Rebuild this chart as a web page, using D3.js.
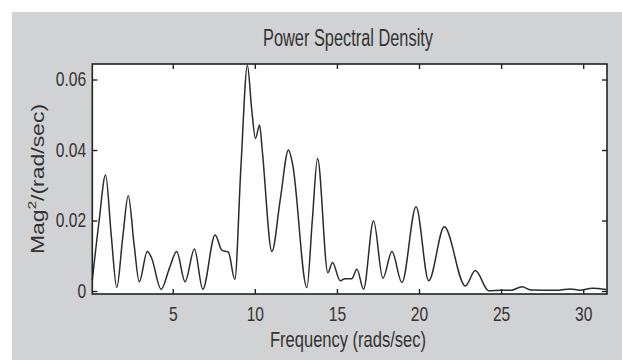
<!DOCTYPE html>
<html>
<head>
<meta charset="utf-8">
<script src="https://cdn.jsdelivr.net/npm/d3@7"></script>
<style>
  body { margin: 0; background: #fff; }
  text { font-family: "Liberation Sans", Arial, sans-serif; fill: #333; }
</style>
</head>
<body>
<svg id="chart" width="622" height="360"></svg>
<script>
// spectrum (frequency in rad/s, magnitude)
const freq = [0.10, 0.50, 0.91, 1.25, 1.59, 1.95, 2.29, 2.65, 2.96, 3.45, 3.70, 4.29, 4.80, 5.24,
  5.75, 6.32, 6.83, 7.58, 8.00, 8.39, 8.78, 9.15, 9.55, 9.80, 10.04, 10.29, 10.45, 11.04, 11.55,
  12.05, 12.30, 13.17, 13.50, 13.82, 14.45, 14.73, 15.20, 15.50, 15.90, 16.22, 16.62, 17.23,
  17.80, 18.35, 18.96, 19.82, 20.59, 21.54, 22.82, 23.43, 24.24, 25.00, 25.60, 26.28, 26.80,
  28.50, 29.20, 29.80, 30.55, 31.40];
const psd = [0.0031, 0.0193, 0.0329, 0.0160, 0.0010, 0.0150, 0.0270, 0.0130, 0.0026, 0.0112, 0.0095,
  0.0005, 0.0065, 0.0112, 0.0026, 0.0119, 0.0005, 0.0159, 0.0115, 0.0110, 0.0033, 0.0350, 0.0640,
  0.0520, 0.0433, 0.0471, 0.0400, 0.0112, 0.0260, 0.0400, 0.0360, 0.0010, 0.0200, 0.0376, 0.0052,
  0.0081, 0.0029, 0.0035, 0.0035, 0.0062, 0.0005, 0.0199, 0.0036, 0.0112, 0.0024, 0.0239, 0.0029,
  0.0182, 0.0014, 0.0058, 0.0001, 0.0002, 0.0002, 0.0012, 0.0003, 0.0002, 0.0006, 0.0002, 0.0008,
  0.0004];

const xTicks = [5, 10, 15, 20, 25, 30];
const yTicks = [0, 0.02, 0.04, 0.06];
const xDomain = [0.1, 31.45];
const yDomain = [-0.00085, 0.0644];

const svg = d3.select("#chart");
const plotL = 92.3, plotR = 607, plotT = 64, plotB = 294;
const squeeze = 0.78; // the reference lettering is narrow

// gray figure background
svg.append("rect").attr("x", 12).attr("y", 12).attr("width", 610).attr("height", 348)
  .attr("fill", "#d1d2d4");
svg.append("rect").attr("x", plotL).attr("y", plotT)
  .attr("width", plotR - plotL).attr("height", plotB - plotT).attr("fill", "#fff");

const x = d3.scaleLinear().domain(xDomain).range([plotL, plotR]);
const y = d3.scaleLinear().domain(yDomain).range([plotB, plotT]);

const yFmt = (d) => (d === 0 ? "0" : d3.format(".2f")(d));

const styleAxis = (g) => {
  g.select(".domain").remove();
  g.selectAll(".tick line").attr("stroke", "#222").attr("stroke-width", 1.4);
  g.selectAll("text").attr("font-size", 20).attr("fill", "#333")
    .attr("font-family", '"Liberation Sans", Arial, sans-serif')
    .attr("transform", `scale(${squeeze},1)`);
};

svg.append("g").attr("transform", `translate(0,${plotB})`)
  .call(d3.axisBottom(x).tickValues(xTicks).tickSize(-5).tickPadding(13))
  .call(styleAxis);
svg.append("g").attr("transform", `translate(0,${plotT})`)
  .call(d3.axisTop(x).tickValues(xTicks).tickSize(-5).tickFormat(""))
  .call(styleAxis);
svg.append("g").attr("transform", `translate(${plotL},0)`)
  .call(d3.axisLeft(y).tickValues(yTicks).tickSize(-5).tickPadding(8).tickFormat(yFmt))
  .call(styleAxis);
svg.append("g").attr("transform", `translate(${plotR},0)`)
  .call(d3.axisRight(y).tickValues(yTicks).tickSize(-5).tickFormat(""))
  .call(styleAxis);

const pts = freq.map((f, i) => [f, psd[i]]);
const line = d3.line().curve(d3.curveMonotoneX).x((d) => x(d[0])).y((d) => y(d[1]));

svg.append("path").datum(pts)
  .attr("d", line)
  .attr("fill", "none")
  .attr("stroke", "#2b2b2b")
  .attr("stroke-width", 1.5);

// frame
svg.append("rect").attr("x", plotL).attr("y", plotT)
  .attr("width", plotR - plotL).attr("height", plotB - plotT)
  .attr("fill", "none").attr("stroke", "#222").attr("stroke-width", 1.6);

svg.append("text").attr("x", 348).attr("y", 46).attr("text-anchor", "middle")
  .attr("font-size", 23).attr("textLength", 170).attr("lengthAdjust", "spacingAndGlyphs")
  .text("Power Spectral Density");

svg.append("text").attr("x", 348).attr("y", 347).attr("text-anchor", "middle")
  .attr("font-size", 22).attr("textLength", 156).attr("lengthAdjust", "spacingAndGlyphs")
  .text("Frequency (rads/sec)");

const yl = svg.append("text").attr("text-anchor", "middle").attr("font-size", 23)
  .attr("transform", `translate(43.5,179) scale(${squeeze},1) rotate(-90)`);
yl.append("tspan").text("Mag");
yl.append("tspan").attr("font-size", 15).attr("dy", -9).text("2");
yl.append("tspan").attr("dy", 9).text("/(rad/sec)");
</script>
</body>
</html>
